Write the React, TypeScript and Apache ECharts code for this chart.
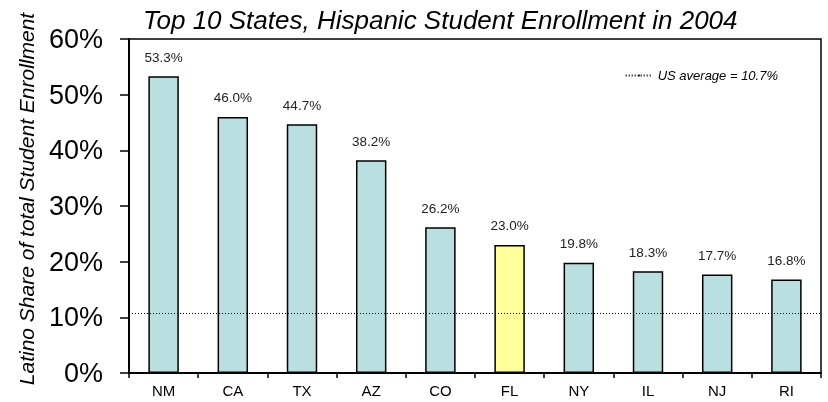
import React, { useEffect, useRef } from "react";
import * as echarts from "echarts";

const states = ["NM", "CA", "TX", "AZ", "CO", "FL", "NY", "IL", "NJ", "RI"];
const shares = [53.3, 46.0, 44.7, 38.2, 26.2, 23.0, 19.8, 18.3, 17.7, 16.8];
const highlighted = "FL";
const usAverage = 10.7;
const yTicks = { min: 0, max: 60, interval: 10 };

export default function App() {
  const ref = useRef<HTMLDivElement>(null);
  useEffect(() => {
    const chart = echarts.init(ref.current!, null, { renderer: "svg" });
    const font = "'Liberation Sans', Arial, sans-serif";
    chart.setOption({
      animation: false,
      textStyle: { fontFamily: font },
      title: {
        text: "Top 10 States, Hispanic Student Enrollment in 2004",
        left: 138,
        top: 2,
        textStyle: { fontFamily: font, fontStyle: "italic", fontWeight: "normal", fontSize: 26, color: "#000" },
      },
      legend: {
        data: ["US average = " + usAverage + "%"],
        right: 45,
        top: 64,
        itemWidth: 27,
        itemHeight: 2,
        itemGap: 4,
        textStyle: { fontFamily: font, fontStyle: "italic", fontSize: 13, color: "#000" },
      },
      grid: {
        left: 129,
        right: 7,
        top: 39,
        bottom: 29,
        show: true,
        borderColor: "#000",
        borderWidth: 1.5,
      },
      xAxis: {
        type: "category",
        data: states,
        axisLine: { lineStyle: { color: "#000", width: 2 } },
        axisTick: { show: true, alignWithLabel: false, length: 5, lineStyle: { color: "#000", width: 1.5 } },
        axisLabel: { color: "#000", fontSize: 15, margin: 10, fontFamily: font },
      },
      yAxis: {
        type: "value",
        min: yTicks.min,
        max: yTicks.max,
        interval: yTicks.interval,
        splitLine: { show: false },
        axisLine: { show: true, lineStyle: { color: "#000", width: 2 } },
        axisTick: { show: true, length: 9, lineStyle: { color: "#000", width: 1.5 } },
        axisLabel: { color: "#000", fontSize: 27, margin: 26, formatter: "{value}%", fontFamily: font },
      },
      series: [
        {
          type: "bar",
          name: "share",
          barWidth: "44%",
          data: states.map((s, i) => ({
            value: shares[i],
            itemStyle: {
              color: s === highlighted ? "#FFFF99" : "#B9DFE0",
              borderColor: "#000",
              borderWidth: 1.5,
            },
          })),
          label: {
            show: true,
            position: "top",
            distance: 12,
            fontSize: 13.5,
            color: "#222",
            fontFamily: font,
            formatter: (p: any) => p.value.toFixed(1) + "%",
          },
          markLine: {
            symbol: "none",
            silent: true,
            label: { show: false },
            lineStyle: { color: "#000", type: [1, 2], width: 1 },
            data: [{ yAxis: usAverage }],
          },
        },
        {
          type: "line",
          name: "US average = " + usAverage + "%",
          data: [],
          symbol: "none",
          color: "#000",
          lineStyle: { color: "#000", type: [1, 2], width: 1 },
        },
      ],
      graphic: [
        {
          type: "text",
          x: 26,
          y: 199,
          rotation: Math.PI / 2,
          style: {
            text: "Latino Share of total Student Enrollment",
            fontFamily: font,
            fontStyle: "italic",
            fontSize: 21,
            fill: "#000",
            align: "center",
            verticalAlign: "middle",
          },
        },
      ],
    });
    return () => chart.dispose();
  }, []);
  return <div ref={ref} style={{ width: 828, height: 402, position: "fixed", left: 0, top: 0 }} />;
}
